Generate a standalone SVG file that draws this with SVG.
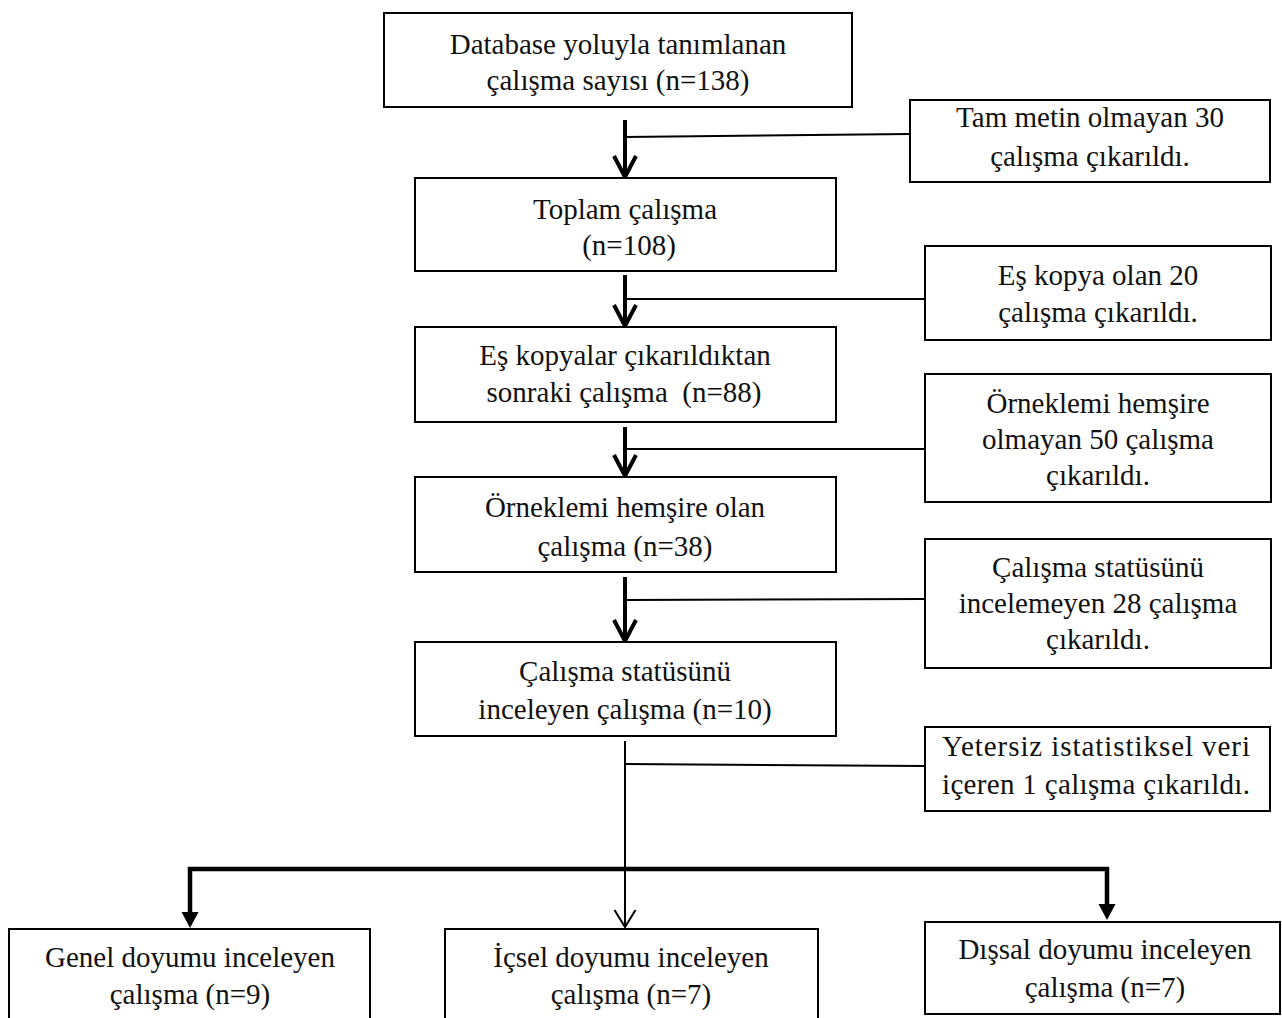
<svg xmlns="http://www.w3.org/2000/svg" width="1282" height="1018" viewBox="0 0 1282 1018">
<style>
.box{fill:#fff;stroke:#000;stroke-width:2}
.t{font-family:"Liberation Serif","DejaVu Serif",serif;font-size:29px;fill:#111;text-anchor:middle;white-space:pre}
.tl{font-family:"Liberation Serif","DejaVu Serif",serif;font-size:29px;fill:#111}
.thick{stroke:#000;stroke-width:4;fill:none}
.thin{stroke:#000;stroke-width:2;fill:none}
.bar{stroke:#000;stroke-width:4.5;fill:none}
</style>
<defs>
<marker id="vThick" markerUnits="userSpaceOnUse" markerWidth="40" markerHeight="40" refX="0" refY="0" orient="auto" overflow="visible">
<path d="M-21,-11 L0,0 L-21,11" fill="none" stroke="#000" stroke-width="4"/>
</marker>
<marker id="vThin" markerUnits="userSpaceOnUse" markerWidth="40" markerHeight="40" refX="0" refY="0" orient="auto" overflow="visible">
<path d="M-17,-10.5 L0,0 L-17,10.5" fill="none" stroke="#000" stroke-width="2"/>
</marker>
<marker id="tri" markerUnits="userSpaceOnUse" markerWidth="40" markerHeight="40" refX="-15" refY="0" orient="auto" overflow="visible">
<path d="M-16,-8.5 L0,0 L-16,8.5 Z" fill="#000"/>
</marker>
</defs>
<rect width="1282" height="1018" fill="#fff"/>
<g id="connectors">
<line class="thick" x1="625" y1="120" x2="625" y2="177" marker-end="url(#vThick)"/>
<line class="thick" x1="625" y1="275" x2="625" y2="326" marker-end="url(#vThick)"/>
<line class="thick" x1="625" y1="427" x2="625" y2="476" marker-end="url(#vThick)"/>
<line class="thick" x1="625" y1="577" x2="625" y2="641" marker-end="url(#vThick)"/>
<line class="thin" x1="625" y1="137" x2="910" y2="134"/>
<line class="thin" x1="625" y1="299" x2="925" y2="299"/>
<line class="thin" x1="625" y1="449" x2="925" y2="449"/>
<line class="thin" x1="625" y1="600" x2="925" y2="599"/>
<line class="thin" x1="625" y1="741" x2="625" y2="927" marker-end="url(#vThin)"/>
<line class="thin" x1="625" y1="764" x2="925" y2="766"/>
<line class="bar" x1="188" y1="869" x2="1109" y2="869"/>
<path class="bar" d="M190,867 V913" marker-end="url(#tri)"/>
<path class="bar" d="M1107,867 V905" marker-end="url(#tri)"/>
</g>
<g id="n1"><rect class="box" x="384" y="13" width="468" height="94"/>
<text class="t" x="618" y="54">Database yoluyla tanımlanan</text>
<text class="t" x="618" y="90">çalışma sayısı (n=138)</text></g>
<g id="s1"><rect class="box" x="910" y="100" width="360" height="82"/>
<text class="t" x="1090" y="127">Tam metin olmayan 30</text>
<text class="t" x="1090" y="166">çalışma çıkarıldı.</text></g>
<g id="n2"><rect class="box" x="415" y="178" width="421" height="93"/>
<text class="t" x="625" y="219">Toplam çalışma</text>
<text class="t" x="629" y="255">(n=108)</text></g>
<g id="s2"><rect class="box" x="925" y="246" width="346" height="94"/>
<text class="t" x="1098" y="285">Eş kopya olan 20</text>
<text class="t" x="1098" y="322">çalışma çıkarıldı.</text></g>
<g id="n3"><rect class="box" x="415" y="327" width="421" height="95"/>
<text class="t" x="625" y="365">Eş kopyalar çıkarıldıktan</text>
<text class="t" x="624" y="402">sonraki çalışma  (n=88)</text></g>
<g id="s3"><rect class="box" x="925" y="374" width="346" height="128"/>
<text class="t" x="1098" y="413">Örneklemi hemşire</text>
<text class="t" x="1098" y="449">olmayan 50 çalışma</text>
<text class="t" x="1098" y="485">çıkarıldı.</text></g>
<g id="n4"><rect class="box" x="415" y="477" width="421" height="95"/>
<text class="t" x="625" y="517">Örneklemi hemşire olan</text>
<text class="t" x="625" y="556">çalışma (n=38)</text></g>
<g id="s4"><rect class="box" x="925" y="539" width="346" height="129"/>
<text class="t" x="1098" y="577">Çalışma statüsünü</text>
<text class="t" x="1098" y="613">incelemeyen 28 çalışma</text>
<text class="t" x="1098" y="649">çıkarıldı.</text></g>
<g id="n5"><rect class="box" x="415" y="642" width="421" height="94"/>
<text class="t" x="625" y="681">Çalışma statüsünü</text>
<text class="t" x="625" y="719">inceleyen çalışma (n=10)</text></g>
<g id="s5"><rect class="box" x="925" y="727" width="345" height="84"/>
<text class="tl" x="942" y="756" textLength="308" lengthAdjust="spacing">Yetersiz istatistiksel veri</text>
<text class="tl" x="942" y="794" textLength="308" lengthAdjust="spacing">içeren 1 çalışma çıkarıldı.</text></g>
<g id="b1"><rect class="box" x="9" y="929" width="361" height="100"/>
<text class="t" x="190" y="967">Genel doyumu inceleyen</text>
<text class="t" x="190" y="1004">çalışma (n=9)</text></g>
<g id="b2"><rect class="box" x="445" y="929" width="373" height="100"/>
<text class="t" x="631" y="967">İçsel doyumu inceleyen</text>
<text class="t" x="631" y="1004">çalışma (n=7)</text></g>
<g id="b3"><rect class="box" x="925" y="922" width="355" height="92"/>
<text class="t" x="1105" y="959">Dışsal doyumu inceleyen</text>
<text class="t" x="1105" y="997">çalışma (n=7)</text></g>
</svg>
